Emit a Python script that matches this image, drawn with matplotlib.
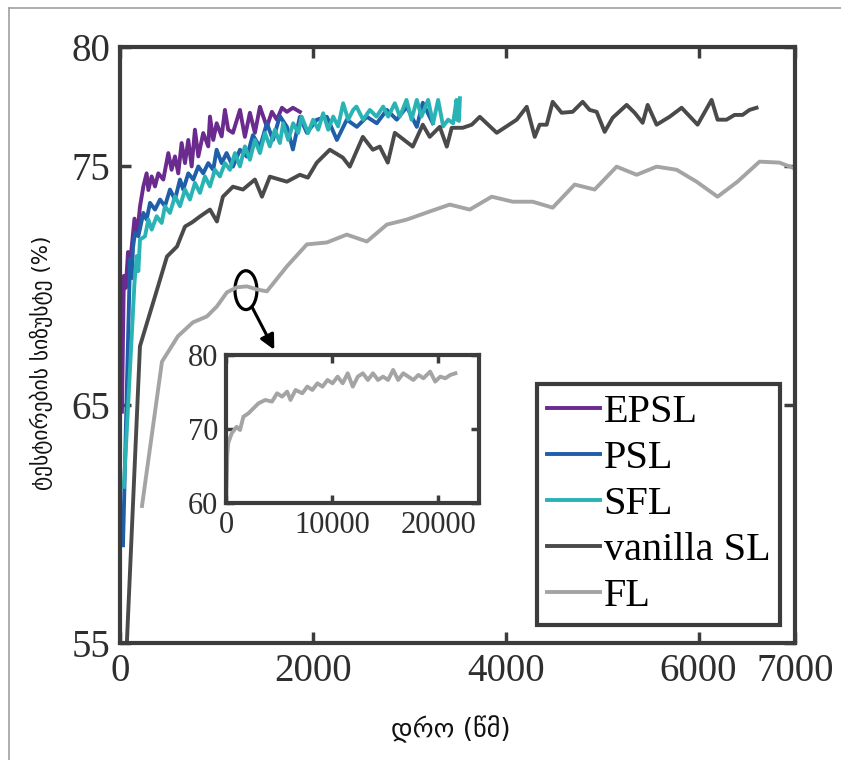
import matplotlib
matplotlib.use("Agg")
import matplotlib.pyplot as plt
from matplotlib.patches import Ellipse
from matplotlib.lines import Line2D

# ---- series: (time in s, test accuracy in %) ----
epsl = [(20, 64.7), (40, 70.4), (60, 69.9), (83, 71.4), (105, 70.9), (121, 71.6),
        (150, 72.8), (180, 72.2), (207, 73.3), (242, 74.15), (276, 74.7), (294, 74.0),
        (328, 74.57), (363, 74.15), (397, 74.7), (449, 74.44), (501, 75.55), (535, 74.85),
        (570, 75.41), (604, 74.7), (639, 75.97), (674, 75.13), (708, 76.1), (743, 74.99),
        (777, 76.53), (812, 75.41), (863, 76.39), (915, 75.83), (933, 77.08), (967, 76.1),
        (1002, 76.8), (1054, 76.25), (1088, 77.36), (1122, 76.53), (1171, 76.4),
        (1244, 77.36), (1295, 76.23), (1347, 77.24), (1399, 76.4), (1451, 77.49),
        (1523, 76.65), (1575, 77.28), (1627, 76.95), (1679, 77.45), (1731, 77.28),
        (1793, 77.45), (1865, 77.28)]

psl = [(31, 59.1), (104, 71.1), (120, 70.3), (135, 71.6), (155, 72.2), (190, 72.06),
       (242, 73.04), (276, 72.76), (311, 73.46), (363, 73.18), (415, 73.6), (466, 73.32),
       (518, 74.02), (570, 73.6), (622, 74.44), (656, 74.02), (708, 74.7), (760, 74.44),
       (812, 74.99), (863, 74.7), (915, 75.13), (967, 74.85), (1002, 75.69), (1054, 75.13),
       (1105, 75.55), (1171, 74.98), (1244, 75.69), (1316, 75.4), (1378, 76.3),
       (1451, 75.8), (1523, 76.8), (1586, 76.1), (1658, 77.1), (1731, 76.65),
       (1793, 75.7), (1865, 77.07), (1938, 76.4), (2041, 76.95), (2145, 77.07),
       (2249, 76.1), (2352, 76.95), (2456, 76.65), (2560, 77.07), (2663, 76.8),
       (2767, 77.36), (2870, 76.95), (2974, 77.49), (3078, 76.65), (3140, 77.66),
       (3244, 76.8)]

sfl = [(40, 61.55), (150, 70.1), (173, 71.23), (190, 70.6), (207, 71.92), (259, 72.06),
       (294, 72.76), (328, 72.34), (380, 72.9), (432, 72.62), (466, 73.32), (518, 73.04),
       (570, 73.74), (622, 73.32), (674, 74.02), (725, 73.6), (777, 74.3), (829, 73.88),
       (881, 74.57), (933, 74.15), (984, 74.85), (1036, 74.57), (1088, 75.13),
       (1140, 74.85), (1192, 75.55), (1244, 74.99), (1295, 75.83), (1347, 75.27),
       (1399, 76.1), (1451, 75.55), (1503, 76.39), (1554, 75.83), (1606, 76.53),
       (1658, 75.97), (1692, 76.8), (1744, 76.1), (1796, 76.8), (1848, 76.39),
       (1883, 77.08), (1951, 76.39), (2003, 76.95), (2055, 76.53), (2107, 77.22),
       (2159, 76.53), (2211, 77.08), (2262, 76.67), (2314, 77.64), (2366, 76.95),
       (2418, 77.36), (2452, 77.5), (2521, 76.95), (2591, 77.36), (2660, 77.08),
       (2729, 77.5), (2781, 77.08), (2850, 77.64), (2902, 77.08), (2971, 77.78),
       (3023, 76.95), (3078, 77.78), (3126, 77.08), (3195, 77.78), (3247, 76.8),
       (3299, 77.78), (3351, 76.67), (3403, 76.95), (3455, 76.8), (3489, 77.78),
       (3496, 76.95), (3515, 76.9), (3525, 77.85)]

vanilla_sl = [(60, 54.0), (207, 67.45), (238, 67.87), (363, 69.54), (487, 71.21),
              (591, 71.63), (674, 72.47), (746, 72.64), (829, 72.89), (933, 73.18),
              (1005, 72.68), (1067, 73.72), (1171, 74.14), (1275, 74.02), (1399, 74.44),
              (1472, 73.72), (1554, 74.56), (1731, 74.35), (1865, 74.64), (1948, 74.52),
              (2041, 75.15), (2176, 75.69), (2311, 75.36), (2383, 74.98), (2518, 76.23),
              (2622, 75.69), (2694, 75.82), (2777, 75.15), (2850, 76.4), (3036, 75.82),
              (3140, 76.74), (3212, 76.23), (3316, 76.65), (3389, 75.82), (3440, 76.61),
              (3554, 76.61), (3648, 76.74), (3731, 77.07), (3907, 76.4), (4114, 76.95),
              (4218, 77.49), (4301, 76.23), (4352, 76.74), (4425, 76.74), (4487, 77.7),
              (4580, 77.24), (4694, 77.28), (4798, 77.7), (4870, 77.36), (4943, 77.28),
              (5026, 76.44), (5109, 77.03), (5254, 77.57), (5337, 77.24), (5420, 76.82),
              (5472, 77.57), (5565, 76.74), (5699, 77.07), (5824, 77.45), (5990, 76.74),
              (6135, 77.78), (6197, 76.95), (6290, 76.95), (6373, 77.15), (6456, 77.15),
              (6528, 77.36), (6601, 77.45)]

fl = [(228, 60.75), (435, 66.8), (601, 67.87), (756, 68.45), (902, 68.7), (1005, 69.12),
      (1109, 69.71), (1212, 69.92), (1316, 69.96), (1420, 69.83), (1523, 69.75),
      (1731, 70.8), (1938, 71.72), (2145, 71.8), (2352, 72.13), (2560, 71.84),
      (2767, 72.55), (2974, 72.76), (3212, 73.1), (3420, 73.39), (3627, 73.18),
      (3855, 73.72), (4073, 73.51), (4280, 73.51), (4487, 73.26), (4715, 74.23),
      (4922, 74.02), (5150, 74.98), (5358, 74.64), (5565, 74.98), (5772, 74.85),
      (5979, 74.35), (6197, 73.72), (6404, 74.35), (6632, 75.19), (6839, 75.15),
      (6974, 74.94), (7100, 74.7)]

# FL over its full training run
fl_long = [(0, 60.4), (100, 66.5), (190, 68.1), (508, 69.4), (984, 70.3), (1302, 69.86),
           (1619, 71.66), (2095, 72.12), (2571, 72.8), (3048, 73.47), (3683, 73.92),
           (4317, 73.7), (4794, 74.82), (5270, 74.37), (5746, 75.05), (6063, 73.92),
           (6540, 75.27), (7175, 74.82), (7651, 75.72), (8127, 75.27), (8603, 76.17),
           (9079, 75.72), (9556, 76.62), (10032, 76.17), (10508, 77.07), (10984, 76.17),
           (11460, 77.52), (11937, 75.72), (12413, 77.07), (12889, 77.52), (13365, 76.62),
           (13841, 77.52), (14317, 76.62), (14794, 77.07), (15270, 76.62), (15746, 77.97),
           (16222, 76.62), (16698, 77.52), (17175, 77.07), (17651, 76.62), (18127, 77.3),
           (18603, 76.85), (19238, 77.75), (19714, 76.4), (20190, 77.07), (20667, 76.85),
           (21143, 77.3), (21619, 77.52)]

labels = ["EPSL", "PSL", "SFL", "vanilla SL", "FL"]
colors = ["#6a2a8e", "#1f5ea9", "#2ab3b5", "#4a4a4a", "#a4a4a4"]

x_ticks = [0, 2000, 4000, 6000, 7000]
y_ticks = [55, 65, 75, 80]
inset_x_ticks = [0, 10000, 20000]
inset_y_ticks = [60, 70, 80]

SPINE = "#3c3c3c"
SERIF = "Liberation Serif"
LW = 2.8

fig = plt.figure(figsize=(8.41, 7.6), dpi=100)
ax = fig.add_axes([0.1427, 0.1539, 0.8026, 0.7843])

for data, lab, col in zip([epsl, psl, sfl, vanilla_sl, fl], labels, colors):
    xs, ys = zip(*data)
    ax.plot(xs, ys, color=col, lw=LW, label=lab, solid_joinstyle="round")

ax.set_xlim(0, 7000)
ax.set_ylim(55, 80)
ax.set_xticks(x_ticks)
ax.set_yticks(y_ticks)
ax.tick_params(direction="in", length=8, width=2.5, top=True, right=True,
               labelsize=28, color=SPINE, labelcolor="#2e2e2e", pad=7)
for lab in ax.get_xticklabels() + ax.get_yticklabels():
    lab.set_family(SERIF)
for sp in ax.spines.values():
    sp.set_linewidth(3)
    sp.set_color(SPINE)

ax.set_xlabel("დრო (წმ)", family=["DejaVu Sans"], fontsize=19, color="#111111")
ax.xaxis.set_label_coords(0.49, -0.122)
ax.set_ylabel("ტესტირების სიზუსტე (%)", family=["DejaVu Sans"], fontsize=15.5,
              color="#111111")
ax.yaxis.set_label_coords(-0.1, 0.47)

leg = ax.legend(loc="lower left", bbox_to_anchor=(0.618, 0.03),
                prop={"family": SERIF, "size": 29}, frameon=True, fancybox=False,
                edgecolor=SPINE, framealpha=1, handlelength=1.3, handletextpad=0.1,
                labelspacing=0.22, borderpad=0.25, borderaxespad=0)
leg.get_frame().set_linewidth(3)

# zoom marker on the FL curve with an arrow to the inset
ax.add_patch(Ellipse((1306, 69.8), 228, 1.63, fill=False, ec="black", lw=2.3))
ax.annotate("", xy=(1600, 67.3), xytext=(1368, 69.1),
            arrowprops=dict(arrowstyle="-|>", color="black", lw=2.2,
                            mutation_scale=22, shrinkA=0, shrinkB=0))

# inset: full FL run
axin = fig.add_axes([0.269, 0.338, 0.300, 0.195])
xs, ys = zip(*fl_long)
axin.plot(xs, ys, color=colors[4], lw=LW)
axin.set_xlim(0, 23800)
axin.set_ylim(60, 80)
axin.set_xticks(inset_x_ticks)
axin.set_yticks(inset_y_ticks)
axin.tick_params(direction="in", length=6, width=2.5, top=True, right=True,
                 labelsize=22, color=SPINE, labelcolor="#2e2e2e", pad=6)
for lab in axin.get_xticklabels() + axin.get_yticklabels():
    lab.set_family(SERIF)
for sp in axin.spines.values():
    sp.set_linewidth(3)
    sp.set_color(SPINE)

# thin page frame
fig.add_artist(Line2D([9 / 841, 9 / 841], [0, 1 - 8 / 760], transform=fig.transFigure,
                      color="#a0a0a0", lw=1.2))
fig.add_artist(Line2D([9 / 841, 1], [1 - 8 / 760, 1 - 8 / 760], transform=fig.transFigure,
                      color="#a0a0a0", lw=1.2))

fig.savefig("out.png", dpi=100)
